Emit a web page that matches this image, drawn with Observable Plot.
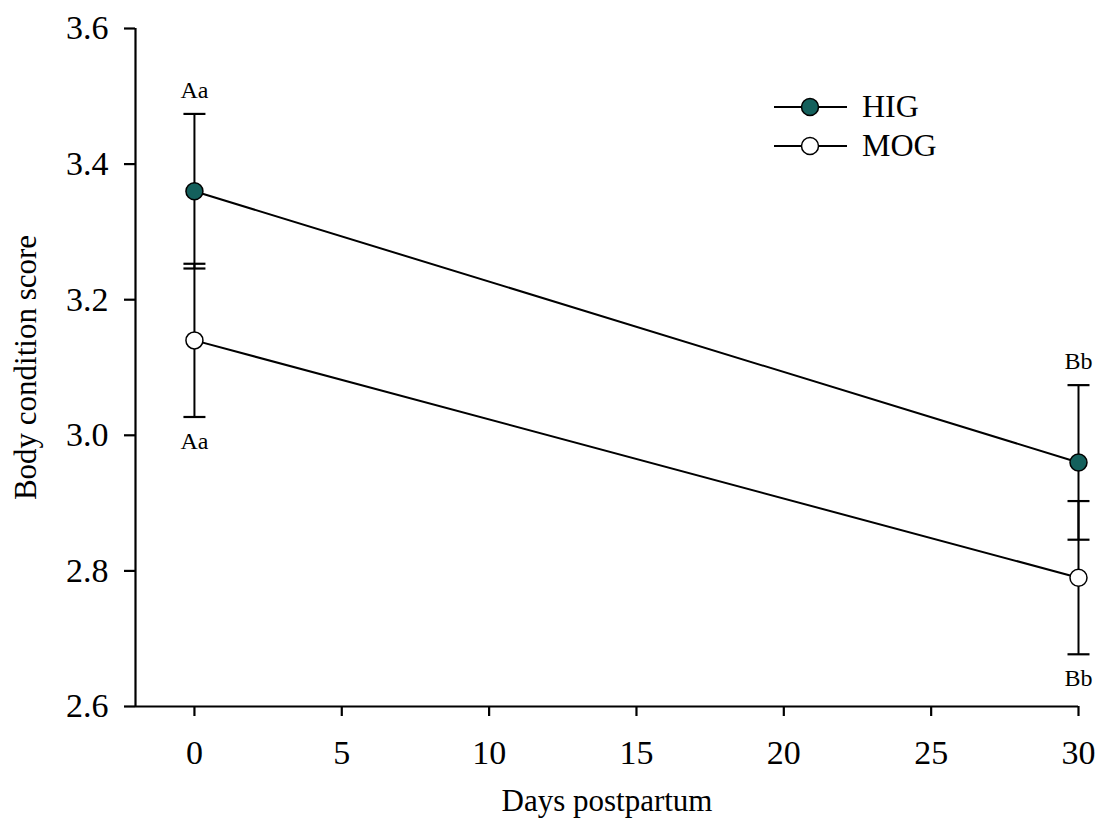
<!DOCTYPE html>
<html><head><meta charset="utf-8">
<script src="https://cdn.jsdelivr.net/npm/d3@7"></script>
<script src="https://cdn.jsdelivr.net/npm/@observablehq/plot@0.6"></script>
<style>
body{margin:0;background:#fff;}
#wrap{position:relative;width:1100px;height:831px;font-family:"Liberation Serif",serif;}
#legend{position:absolute;left:770px;top:87px;}
.lg{display:flex;align-items:center;height:39px;font-size:32px;color:#000;}
.lg svg{margin-right:12px;}
</style></head><body><div id="wrap"><div id="legend"></div></div>
<script>
const days = [0, 30];
const groups = ["HIG", "MOG"];
const higMean = [3.36, 2.96];
const higSE = [0.114, 0.114];
const mogMean = [3.14, 2.79];
const mogSE = [0.113, 0.113];
const higLetters = ["Aa", "Bb"];
const mogLetters = ["Aa", "Bb"];
const groupFill = {HIG: "#14605c", MOG: "#ffffff"};
const xTicks = [0, 5, 10, 15, 20, 25, 30];
const yTicks = [2.6, 2.8, 3.0, 3.2, 3.4, 3.6];
const xLabel = "Days postpartum";
const yLabel = "Body condition score";

const rows = [];
days.forEach((d, i) => {
  rows.push({group: "HIG", day: d, mean: higMean[i], lo: higMean[i] - higSE[i], hi: higMean[i] + higSE[i], letter: higLetters[i]});
  rows.push({group: "MOG", day: d, mean: mogMean[i], lo: mogMean[i] - mogSE[i], hi: mogMean[i] + mogSE[i], letter: mogLetters[i]});
});
const caps = rows.flatMap(r => [{day: r.day, v: r.lo}, {day: r.day, v: r.hi}]);
const capSymbol = {draw(ctx) { ctx.moveTo(-11, 0); ctx.lineTo(11, 0); }};

const chart = Plot.plot({
  width: 1100, height: 831,
  marginLeft: 135, marginRight: 22, marginTop: 28, marginBottom: 125,
  style: {fontFamily: "Liberation Serif, serif", fontSize: "32px", color: "#000", background: "#fff", overflow: "visible"},
  x: {domain: [-2, 30]},
  y: {domain: [2.6, 3.6]},
  marks: [
    Plot.axisX({ticks: xTicks, tickSize: 10, tickPadding: 23, strokeWidth: 2.2, fontSize: 34, label: null}),
    Plot.axisX({ticks: [], label: xLabel, fontSize: 31, labelAnchor: "center", labelArrow: "none", labelOffset: 104}),
    Plot.axisY({ticks: yTicks, tickFormat: ".1f", tickSize: 11, tickPadding: 16, strokeWidth: 2.2, fontSize: 34, label: null}),
    Plot.axisY({ticks: [], label: yLabel, fontSize: 31, labelAnchor: "center", labelArrow: "none", labelOffset: 122}),
    Plot.ruleX([-2], {stroke: "#000", strokeWidth: 2.2}),
    Plot.ruleY([2.6], {stroke: "#000", strokeWidth: 2.2}),
    Plot.link(rows, {x1: "day", x2: "day", y1: "lo", y2: "hi", stroke: "#000", strokeWidth: 2}),
    Plot.dot(caps, {x: "day", y: "v", symbol: capSymbol, stroke: "#000", strokeWidth: 2.2, fill: "none"}),
    Plot.line(rows, {x: "day", y: "mean", z: "group", stroke: "#000", strokeWidth: 2}),
    Plot.dot(rows, {x: "day", y: "mean", r: 8.5, fill: d => groupFill[d.group], stroke: "#000", strokeWidth: 1.5}),
    Plot.text(rows.filter(r => r.group === "HIG"), {x: "day", y: "hi", text: "letter", dy: -24, fontSize: 24, fill: "#000"}),
    Plot.text(rows.filter(r => r.group === "MOG"), {x: "day", y: "lo", text: "letter", dy: 24, fontSize: 24, fill: "#000"})
  ]
});
document.getElementById("wrap").prepend(chart);

const legend = document.getElementById("legend");
groups.forEach(g => {
  const row = document.createElement("div");
  row.className = "lg";
  row.innerHTML = `<svg width="80" height="24"><line x1="4" y1="12" x2="77" y2="12" stroke="#000" stroke-width="2"/><circle cx="40" cy="12" r="8.5" fill="${groupFill[g]}" stroke="#000" stroke-width="1.5"/></svg><span>${g}</span>`;
  legend.appendChild(row);
});
</script>
</body></html>
